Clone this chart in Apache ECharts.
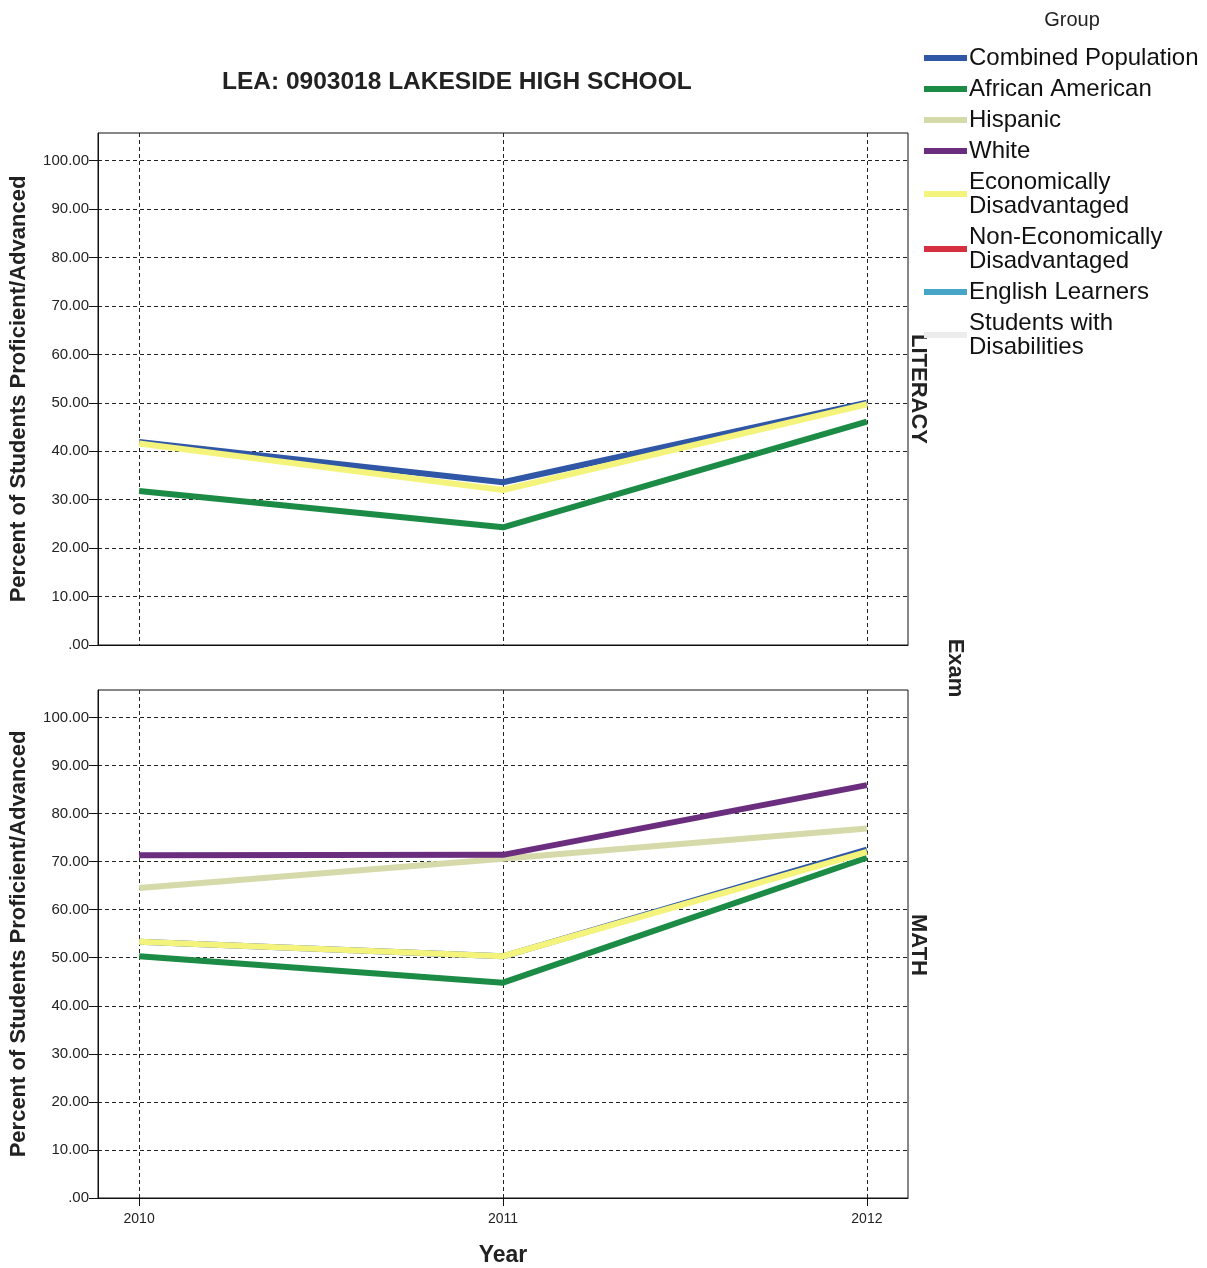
<!DOCTYPE html>
<html>
<head>
<meta charset="utf-8">
<script src="https://cdn.jsdelivr.net/npm/echarts@6/dist/echarts.min.js"></script>
<style>
html,body{margin:0;padding:0;background:#fff;}
#chart{width:1207px;height:1268px;}
</style>
</head>
<body>
<div id="chart"></div>
<script>
// ---------- DATA ----------
const years = [2010, 2011, 2012];
const groups = ['Combined Population', 'African American', 'Hispanic', 'White',
  'Economically Disadvantaged', 'Non-Economically Disadvantaged', 'English Learners', 'Students with Disabilities'];
const legendLabels = ['Combined Population', 'African American', 'Hispanic', 'White',
  'Economically\nDisadvantaged', 'Non-Economically\nDisadvantaged', 'English Learners', 'Students with\nDisabilities'];

// LITERACY panel
const literacyCombined = [41.9, 33.6, 50.0];
const literacyAfricanAmerican = [31.8, 24.3, 46.1];
const literacyEconDisadv = [41.6, 32.0, 49.7];

// MATH panel
const mathCombined = [53.3, 50.3, 72.5];
const mathAfricanAmerican = [50.3, 44.8, 70.8];
const mathHispanic = [64.5, 70.6, 76.9];
const mathWhite = [71.3, 71.4, 85.9];
const mathEconDisadv = [53.3, 50.3, 72.0];

const yTickValues = [0, 10, 20, 30, 40, 50, 60, 70, 80, 90, 100];
const panelTitles = ['LITERACY', 'MATH'];

// ---------- STYLE ----------
const groupColors = ['#2f57a6', '#1b8b45', '#d6d9a9', '#6b2e7e', '#f4f47c', '#d5303f', '#47a6c8', '#ececec'];
const FONT = "'Liberation Sans', Arial, sans-serif";

const panelData = [
  { 'Combined Population': literacyCombined, 'African American': literacyAfricanAmerican, 'Economically Disadvantaged': literacyEconDisadv },
  { 'Combined Population': mathCombined, 'African American': mathAfricanAmerican, 'Hispanic': mathHispanic, 'White': mathWhite, 'Economically Disadvantaged': mathEconDisadv }
];

const grids = [
  { left: 98, top: 133, width: 810, height: 512, show: true, borderColor: '#111', borderWidth: 1, backgroundColor: 'transparent' },
  { left: 98, top: 690, width: 810, height: 511, show: true, borderColor: '#111', borderWidth: 1, backgroundColor: 'transparent' }
];

const dash = { color: '#222', width: 1, type: [4, 3] };

const xAxes = [0, 1].map(i => ({
  type: 'value', gridIndex: i, min: 2009.887, max: 2012.113,
  axisLine: { show: true, onZero: false, lineStyle: { color: '#111', width: 1 } },
  axisTick: { show: i === 1, customValues: years, length: 8, lineStyle: { color: '#111' } },
  axisLabel: { show: i === 1, customValues: years, formatter: v => String(v), fontFamily: FONT, fontSize: 14, color: '#222', margin: 14 },
  splitLine: { show: true, lineStyle: dash },
  name: i === 1 ? 'Year' : '', nameLocation: 'middle', nameGap: 46,
  nameTextStyle: { fontFamily: FONT, fontSize: 23, fontWeight: 'bold', color: '#222' }
}));

const yAxes = [0, 1].map(i => ({
  type: 'value', gridIndex: i, min: 0, max: 105.7,
  axisLine: { show: true, lineStyle: { color: '#111', width: 1 } },
  axisTick: { show: true, customValues: yTickValues, length: 9, lineStyle: { color: '#111' } },
  axisLabel: { customValues: yTickValues, formatter: v => v === 0 ? '.00' : v.toFixed(2), fontFamily: FONT, fontSize: 15, color: '#222', margin: 9 },
  splitLine: { show: true, lineStyle: dash },
  name: 'Percent of Students Proficient/Advanced', nameLocation: 'middle', nameGap: 68,
  nameTextStyle: { fontFamily: FONT, fontSize: 22, fontWeight: 'bold', color: '#222' }
}));

const series = [];
groups.forEach((g, gi) => {
  [0, 1].forEach(p => {
    const vals = panelData[p][g];
    if (!vals && p === 1) return;
    series.push({
      type: 'line', name: g, xAxisIndex: p, yAxisIndex: p,
      data: vals ? years.map((y, k) => [y, vals[k]]) : [],
      symbol: 'none', showSymbol: false,
      lineStyle: { width: 6, color: groupColors[gi] },
      itemStyle: { color: groupColors[gi] },
      emphasis: { disabled: true }
    });
  });
});

const option = {
  animation: false,
  backgroundColor: '#fff',
  title: {
    text: 'LEA: 0903018 LAKESIDE HIGH SCHOOL', left: 222, top: 70, padding: 0,
    textStyle: { fontFamily: FONT, fontSize: 24.5, fontWeight: 'bold', color: '#222' }
  },
  legend: {
    orient: 'vertical', left: 924, top: 46, padding: 0, itemGap: 7,
    itemWidth: 43, itemHeight: 6, icon: 'rect',
    formatter: name => legendLabels[groups.indexOf(name)],
    textStyle: { fontFamily: FONT, fontSize: 24, lineHeight: 24, color: '#111', padding: [0, 0, 0, -3] },
    data: groups
  },
  grid: grids,
  xAxis: xAxes,
  yAxis: yAxes,
  series: series,
  graphic: [
    { type: 'text', x: 1072, y: 20, style: { text: 'Group', fontFamily: FONT, fontSize: 20, fill: '#222', align: 'center', verticalAlign: 'middle' } },
    { type: 'text', x: 918, y: 389, rotation: -Math.PI / 2, style: { text: panelTitles[0], fontFamily: FONT, fontSize: 22, fontWeight: 'bold', fill: '#222', align: 'center', verticalAlign: 'middle' } },
    { type: 'text', x: 918, y: 945, rotation: -Math.PI / 2, style: { text: panelTitles[1], fontFamily: FONT, fontSize: 22, fontWeight: 'bold', fill: '#222', align: 'center', verticalAlign: 'middle' } },
    { type: 'text', x: 955, y: 668, rotation: -Math.PI / 2, style: { text: 'Exam', fontFamily: FONT, fontSize: 22, fontWeight: 'bold', fill: '#222', align: 'center', verticalAlign: 'middle' } }
  ]
};

const chart = echarts.init(document.getElementById('chart'), null, { renderer: 'canvas' });
chart.setOption(option);
</script>
</body>
</html>
